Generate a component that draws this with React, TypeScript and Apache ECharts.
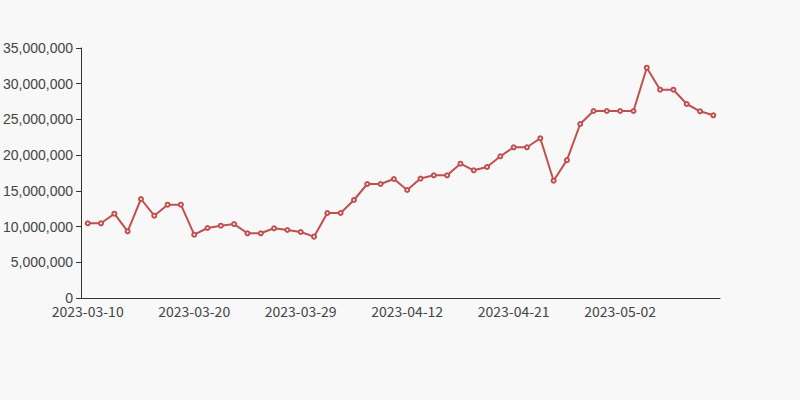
import React, { useEffect, useRef } from "react";
import * as echarts from "echarts";

const dates = [
  "2023-03-10", "2023-03-11", "2023-03-13", "2023-03-14", "2023-03-15", "2023-03-16", "2023-03-17", "2023-03-18",
  "2023-03-20", "2023-03-21", "2023-03-22", "2023-03-23", "2023-03-24", "2023-03-25", "2023-03-27", "2023-03-28",
  "2023-03-29", "2023-03-30", "2023-03-31", "2023-04-01", "2023-04-03", "2023-04-04", "2023-04-06", "2023-04-10",
  "2023-04-12", "2023-04-13", "2023-04-14", "2023-04-15", "2023-04-17", "2023-04-18", "2023-04-19", "2023-04-20",
  "2023-04-21", "2023-04-22", "2023-04-24", "2023-04-25", "2023-04-26", "2023-04-27", "2023-04-28", "2023-04-29",
  "2023-05-02", "2023-05-04", "2023-05-05", "2023-05-06", "2023-05-08", "2023-05-09", "2023-05-10", "2023-05-11",
];

const values = [
  10460000, 10460000, 11800000, 9340000, 13860000, 11520000, 13060000, 13060000,
  8860000, 9800000, 10120000, 10350000, 9060000, 9060000, 9760000, 9520000,
  9240000, 8590000, 11900000, 11900000, 13720000, 15960000, 15960000, 16660000,
  15120000, 16720000, 17180000, 17180000, 18800000, 17880000, 18340000, 19840000,
  21100000, 21100000, 22360000, 16420000, 19300000, 24360000, 26180000, 26180000,
  26180000, 26180000, 32240000, 29160000, 29160000, 27160000, 26140000, 25580000,
];

export default function App() {
  const ref = useRef<HTMLDivElement>(null);
  useEffect(() => {
    if (!ref.current) return;
    const chart = echarts.init(ref.current, null, { renderer: "svg" });
    chart.setOption({
      animation: false,
      backgroundColor: "#f8f8f8",
      textStyle: { fontFamily: "Liberation Sans" },
      grid: { left: 80, right: 80, top: 48, bottom: 102 },
      xAxis: {
        type: "category",
        data: dates,
        boundaryGap: true,
        axisLine: { lineStyle: { color: "#333" } },
        axisTick: { interval: 7, lineStyle: { color: "#333" } },
        axisLabel: { interval: 7, color: "#444", fontSize: 14, fontFamily: "Noto Sans CJK SC", margin: 6 },
      },
      yAxis: {
        type: "value",
        min: 0,
        max: 35000000,
        interval: 5000000,
        splitLine: { show: false },
        axisLine: { show: true, lineStyle: { color: "#333" } },
        axisTick: { show: true, lineStyle: { color: "#333" } },
        axisLabel: {
          color: "#444",
          fontSize: 14,
          fontFamily: "Liberation Sans",
          formatter: (v: number) => v.toLocaleString("en-US"),
        },
      },
      series: [
        {
          type: "line",
          data: values,
          symbol: "emptyCircle",
          symbolSize: 4,
          lineStyle: { color: "#c0504f", width: 2 },
          itemStyle: { color: "#c0504f", borderWidth: 1 },
        },
      ],
    });
    return () => chart.dispose();
  }, []);
  return (
    <div
      ref={ref}
      style={{ width: 800, height: 400, position: "fixed", left: 0, top: 0 }}
    />
  );
}
